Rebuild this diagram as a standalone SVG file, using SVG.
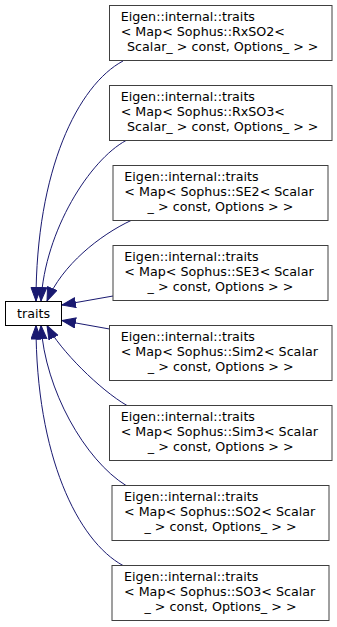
<svg xmlns="http://www.w3.org/2000/svg" width="337" height="627" viewBox="0 0 337 627">
  <style>
    .box { fill: #ffffff; stroke: #404040; stroke-width: 1; }
    .root { stroke: #000000; }
    .lbl { font-family: "DejaVu Sans", "Liberation Sans", sans-serif; font-size: 12.7px; fill: #000000; }
    .mid { text-anchor: middle; }
    .edge { fill: none; stroke: #191970; stroke-width: 1; }
  </style>
  <defs>
    <marker id="arrow" markerUnits="userSpaceOnUse" markerWidth="16" markerHeight="13" refX="14" refY="5.5" orient="auto">
      <path d="M0.5,0.5 L14,5.5 L0.5,10.5 Z" fill="#191970" stroke="#191970" stroke-width="1"/>
    </marker>
  </defs>

  <!-- inheritance connectors: each derived specialisation points back to traits -->
  <g id="edges">
    <path class="edge" marker-end="url(#arrow)" d="M123,61 C78,85 36,170 36,301"/>
    <path class="edge" marker-end="url(#arrow)" d="M126,140.5 C90,160 45,230 41,301"/>
    <path class="edge" marker-end="url(#arrow)" d="M131,220.5 C100,235 62,265 47,301"/>
    <path class="edge" marker-end="url(#arrow)" d="M113,296 L62,305"/>
    <path class="edge" marker-end="url(#arrow)" d="M109.5,329 L62,320.5"/>
    <path class="edge" marker-end="url(#arrow)" d="M127,405.5 C100,390 60,350 47,325.5"/>
    <path class="edge" marker-end="url(#arrow)" d="M126,485.5 C85,460 45,390 41,325.5"/>
    <path class="edge" marker-end="url(#arrow)" d="M123,565.5 C78,541 36,456 36,325.5"/>
  </g>

  <g id="traits">
    <rect class="box root" x="5.5" y="301.5" width="56" height="24"/>
    <text class="lbl mid" x="33.5" y="318">traits</text>
  </g>

  <g id="rxso2">
    <rect class="box" x="109.5" y="5.5" width="222.5" height="55"/>
    <text class="lbl" x="120.7" y="21">Eigen::internal::traits</text>
    <text class="lbl" x="120.7" y="36">&lt; Map&lt; Sophus::RxSO2&lt;</text>
    <text class="lbl mid" x="220.75" y="51" xml:space="preserve"> Scalar_ &gt; const, Options_ &gt; &gt;</text>
  </g>

  <g id="rxso3">
    <rect class="box" x="109.5" y="85.5" width="222.5" height="55"/>
    <text class="lbl" x="120.7" y="101">Eigen::internal::traits</text>
    <text class="lbl" x="120.7" y="116">&lt; Map&lt; Sophus::RxSO3&lt;</text>
    <text class="lbl mid" x="220.75" y="131" xml:space="preserve"> Scalar_ &gt; const, Options_ &gt; &gt;</text>
  </g>

  <g id="se2">
    <rect class="box" x="113" y="165.5" width="215" height="55"/>
    <text class="lbl" x="124.3" y="181">Eigen::internal::traits</text>
    <text class="lbl" x="124.3" y="196">&lt; Map&lt; Sophus::SE2&lt; Scalar</text>
    <text class="lbl mid" x="220.5" y="211">_ &gt; const, Options &gt; &gt;</text>
  </g>

  <g id="se3">
    <rect class="box" x="113" y="245.5" width="215" height="55"/>
    <text class="lbl" x="124.3" y="261">Eigen::internal::traits</text>
    <text class="lbl" x="124.3" y="276">&lt; Map&lt; Sophus::SE3&lt; Scalar</text>
    <text class="lbl mid" x="220.5" y="291">_ &gt; const, Options &gt; &gt;</text>
  </g>

  <g id="sim2">
    <rect class="box" x="109.5" y="325.5" width="222.5" height="55"/>
    <text class="lbl" x="120.7" y="341">Eigen::internal::traits</text>
    <text class="lbl" x="120.7" y="356">&lt; Map&lt; Sophus::Sim2&lt; Scalar</text>
    <text class="lbl mid" x="220.75" y="371">_ &gt; const, Options &gt; &gt;</text>
  </g>

  <g id="sim3">
    <rect class="box" x="109.5" y="405.5" width="222.5" height="55"/>
    <text class="lbl" x="120.7" y="421">Eigen::internal::traits</text>
    <text class="lbl" x="120.7" y="436">&lt; Map&lt; Sophus::Sim3&lt; Scalar</text>
    <text class="lbl mid" x="220.75" y="451">_ &gt; const, Options &gt; &gt;</text>
  </g>

  <g id="so2">
    <rect class="box" x="112" y="485.5" width="217" height="55"/>
    <text class="lbl" x="124" y="501">Eigen::internal::traits</text>
    <text class="lbl" x="124" y="516">&lt; Map&lt; Sophus::SO2&lt; Scalar</text>
    <text class="lbl mid" x="220.5" y="531">_ &gt; const, Options_ &gt; &gt;</text>
  </g>

  <g id="so3">
    <rect class="box" x="112" y="565.5" width="217" height="55"/>
    <text class="lbl" x="124" y="581">Eigen::internal::traits</text>
    <text class="lbl" x="124" y="596">&lt; Map&lt; Sophus::SO3&lt; Scalar</text>
    <text class="lbl mid" x="220.5" y="611">_ &gt; const, Options_ &gt; &gt;</text>
  </g>
</svg>
